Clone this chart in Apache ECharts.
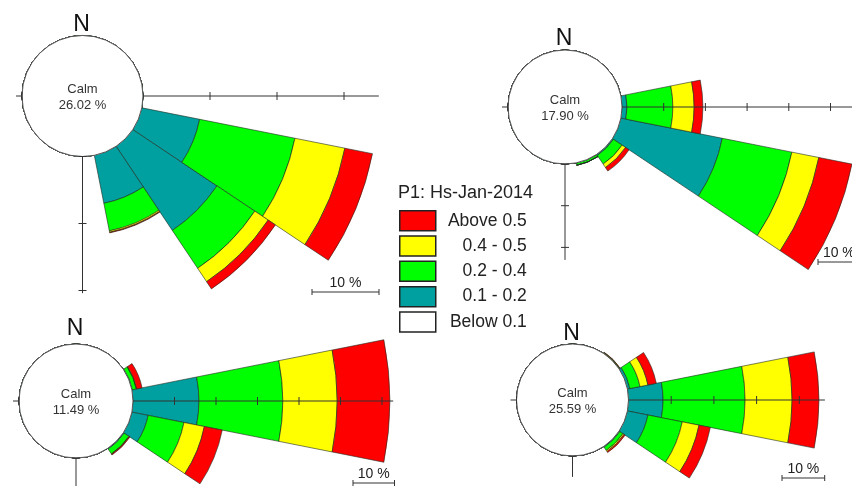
<!DOCTYPE html>
<html>
<head>
<meta charset="utf-8">
<script src="https://cdn.jsdelivr.net/npm/echarts@6/dist/echarts.min.js"></script>
<style>html,body{margin:0;padding:0;background:#fff}#chart{width:852px;height:486px}</style>
</head>
<body>
<div id="chart"></div>
<script>
// ---------------- DATA ----------------
const directions = ['N','NNE','NE','ENE','E','ESE','SE','SSE','S','SSW','SW','WSW','W','WNW','NW','NNW'];
const classNames = ['Below 0.1', '0.1 - 0.2', '0.2 - 0.4', '0.4 - 0.5', 'Above 0.5'];
const legendTitle = 'P1: Hs-Jan-2014';
const calmLabel = 'Calm';
const calmPct = [26.02, 17.90, 11.49, 25.59];
const northLabel = 'N';
const scaleLabel = '10 %';
const scaleStep = 10;

// Panel 1 (top-left)              N  NNE NE  ENE E    ESE   SE    SSE  S  SSW SW WSW W WNW NW NNW
const p1Below = [0, 0, 0, 0, 0, 0, 0, 0, 0, 0, 0, 0, 0, 0, 0, 0];
const p1Low   = [0, 0, 0, 0, 0, 8.8, 15.1, 7.3, 0, 0, 0, 0, 0, 0, 0, 0];
const p1Mid   = [0, 0, 0, 0, 0, 14.5, 6.8, 4.2, 0, 0, 0, 0, 0, 0, 0, 0];
const p1High  = [0, 0, 0, 0, 0, 7.6, 2.4, 0.2, 0, 0, 0, 0, 0, 0, 0, 0];
const p1Top   = [0, 0, 0, 0, 0, 4.2, 1.3, 0.1, 0, 0, 0, 0, 0, 0, 0, 0];

// Panel 2 (top-right)
const p2Below = [0, 0, 0, 0, 0, 0, 0, 0, 0, 0, 0, 0, 0, 0, 0, 0];
const p2Low   = [0, 0, 0, 0, 1.2, 24.8, 0.3, 0.1, 0, 0, 0, 0, 0, 0, 0, 0];
const p2Mid   = [0, 0, 0, 0, 11.0, 17.0, 2.5, 0.5, 0, 0, 0, 0, 0, 0, 0, 0];
const p2High  = [0, 0, 0, 0, 5.1, 6.6, 1.0, 0, 0, 0, 0, 0, 0, 0, 0, 0];
const p2Top   = [0, 0, 0, 0, 2.1, 8.1, 1.0, 0, 0, 0, 0, 0, 0, 0, 0, 0];

// Panel 3 (bottom-left)
const p3Below = [0, 0, 0, 0, 0, 0, 0, 0, 0, 0, 0, 0, 0, 0, 0, 0];
const p3Low   = [0, 0, 0, 0.1, 15.9, 4.0, 0.2, 0, 0, 0, 0, 0, 0, 0, 0, 0];
const p3Mid   = [0, 0, 0, 1.0, 20.2, 8.8, 1.4, 0, 0, 0, 0, 0, 0, 0, 0, 0];
const p3High  = [0, 0, 0, 0.1, 13.1, 5.0, 0.1, 0, 0, 0, 0, 0, 0, 0, 0, 0];
const p3Top   = [0, 0, 0, 1.3, 12.7, 4.4, 0.2, 0, 0, 0, 0, 0, 0, 0, 0, 0];

// Panel 4 (bottom-right)
const p4Below = [0, 0, 0, 0, 0, 0, 0, 0, 0, 0, 0, 0, 0, 0, 0, 0];
const p4Low   = [0, 0, 0, 0.6, 8.1, 4.9, 0.2, 0, 0, 0, 0, 0, 0, 0, 0, 0];
const p4Mid   = [0, 0, 0.1, 2.4, 19.2, 8.2, 0.9, 0, 0, 0, 0, 0, 0, 0, 0, 0];
const p4High  = [0, 0, 0.15, 1.9, 11.0, 4.0, 0.3, 0, 0, 0, 0, 0, 0, 0, 0, 0];
const p4Top   = [0, 0, 0.05, 2.0, 6.3, 2.7, 0.3, 0, 0, 0, 0, 0, 0, 0, 0, 0];

const panelData = [
  [p1Below, p1Low, p1Mid, p1High, p1Top],
  [p2Below, p2Low, p2Mid, p2High, p2Top],
  [p3Below, p3Low, p3Mid, p3High, p3Top],
  [p4Below, p4Low, p4Mid, p4High, p4Top]
];

// ---------------- LAYOUT / STYLE ----------------
const classColors = ['#ffffff', '#00a0a0', '#00ff00', '#ffff00', '#ff0000'];
const FONT = '"Liberation Sans", Arial, sans-serif';
const RMAX = 75;
const layout = [
  {cx: 82.5, cy: 96,  r0: 60.5, k: 6.7,  hLen: 35.2, vLen: 20.4, nY: 25,    sbX: 312, sbY: 292},
  {cx: 565,  cy: 107, r0: 57,   k: 4.17, hLen: 75,   vLen: 23,   nY: 39,    sbX: 818, sbY: 262},
  {cx: 76,   cy: 401, r0: 57,   k: 4.15, hLen: 62.7, vLen: 75,   nY: 328.5, sbX: 353, sbY: 483},
  {cx: 572.5,cy: 400, r0: 56,   k: 4.27, hLen: 46,   vLen: 4.9,  nY: 334,   sbX: 782, sbY: 478}
];

const polar = [], angleAxis = [], radiusAxis = [], series = [], graphic = [];
const LINE = '#333';
function line(x1, y1, x2, y2) {
  graphic.push({type: 'line', z: 100, silent: true,
    shape: {x1, y1, x2, y2}, style: {stroke: LINE, lineWidth: 1}});
}
function text(x, y, str, size, color) {
  graphic.push({type: 'text', z: 110, silent: true, x, y,
    style: {text: str, fontSize: size, fontFamily: FONT, fill: color,
      textAlign: 'center', textVerticalAlign: 'middle'}});
}

layout.forEach((L, p) => {
  polar.push({center: [L.cx, L.cy], radius: [L.r0, L.r0 + RMAX * L.k]});
  angleAxis.push({polarIndex: p, type: 'category', data: directions,
    startAngle: 90 + 360 / directions.length / 2, clockwise: true, show: false});
  radiusAxis.push({polarIndex: p, type: 'value', min: 0, max: RMAX, show: false});
  panelData[p].forEach((arr, c) => {
    series.push({
      type: 'bar', coordinateSystem: 'polar', polarIndex: p,
      name: classNames[c], stack: 'panel' + p, data: arr,
      barCategoryGap: '0%', silent: true,
      itemStyle: {color: classColors[c], borderColor: '#1e2a1e', borderWidth: 0.6},
      emphasis: {disabled: true}
    });
  });

  // calm circle
  graphic.push({type: 'circle', z: 90, silent: true,
    shape: {cx: L.cx, cy: L.cy, r: L.r0},
    style: {fill: '#fff', stroke: '#555', lineWidth: 1}});
  text(L.cx, L.cy - 6.5, calmLabel, 13, '#333');
  text(L.cx, L.cy + 9, calmPct[p].toFixed(2) + ' %', 13, '#333');
  text(L.cx - 1, L.nY, northLabel, 23, '#111');

  // horizontal axis
  const x0 = L.cx + L.r0;
  line(L.cx - L.r0 - 6, L.cy, L.cx - L.r0, L.cy);
  line(L.cx - L.r0, L.cy - 4, L.cx - L.r0, L.cy + 4);
  line(x0, L.cy, x0 + L.hLen * L.k, L.cy);
  for (let v = scaleStep; v <= L.hLen; v += scaleStep) {
    line(x0 + v * L.k, L.cy - 4, x0 + v * L.k, L.cy + 4);
  }
  // vertical axis (south)
  const y0 = L.cy + L.r0;
  line(L.cx, y0, L.cx, y0 + L.vLen * L.k);
  for (let v = 0; v <= L.vLen; v += scaleStep) {
    line(L.cx - 4, y0 + v * L.k, L.cx + 4, y0 + v * L.k);
  }
  // scale bar
  const sw = scaleStep * L.k;
  line(L.sbX, L.sbY, L.sbX + sw, L.sbY);
  line(L.sbX, L.sbY - 3, L.sbX, L.sbY + 3);
  line(L.sbX + sw, L.sbY - 3, L.sbX + sw, L.sbY + 3);
  text(L.sbX + sw / 2, L.sbY - 8.5, scaleLabel, 14, '#222');
});

const chart = echarts.init(document.getElementById('chart'), null, {renderer: 'canvas'});
chart.setOption({
  animation: false,
  backgroundColor: '#fff',
  title: {text: legendTitle, left: 398, top: 184, padding: 0,
    textStyle: {fontSize: 18, fontWeight: 'normal', color: '#222', fontFamily: FONT}},
  legend: {
    left: 399, top: 210, orient: 'vertical', padding: 0,
    itemWidth: 36, itemHeight: 20, itemGap: 3.8, selectedMode: false,
    data: classNames.slice().reverse(),
    icon: 'rect',
    itemStyle: {borderColor: '#222', borderWidth: 1.5},
    formatter: n => '{a|' + n + '}',
    textStyle: {fontSize: 18, color: '#222', fontFamily: FONT,
      rich: {a: {width: 86, align: 'right', fontSize: 17.5, lineHeight: 20, fontFamily: FONT, color: '#222'}}}
  },
  polar, angleAxis, radiusAxis, series, graphic
});
</script>
</body>
</html>
